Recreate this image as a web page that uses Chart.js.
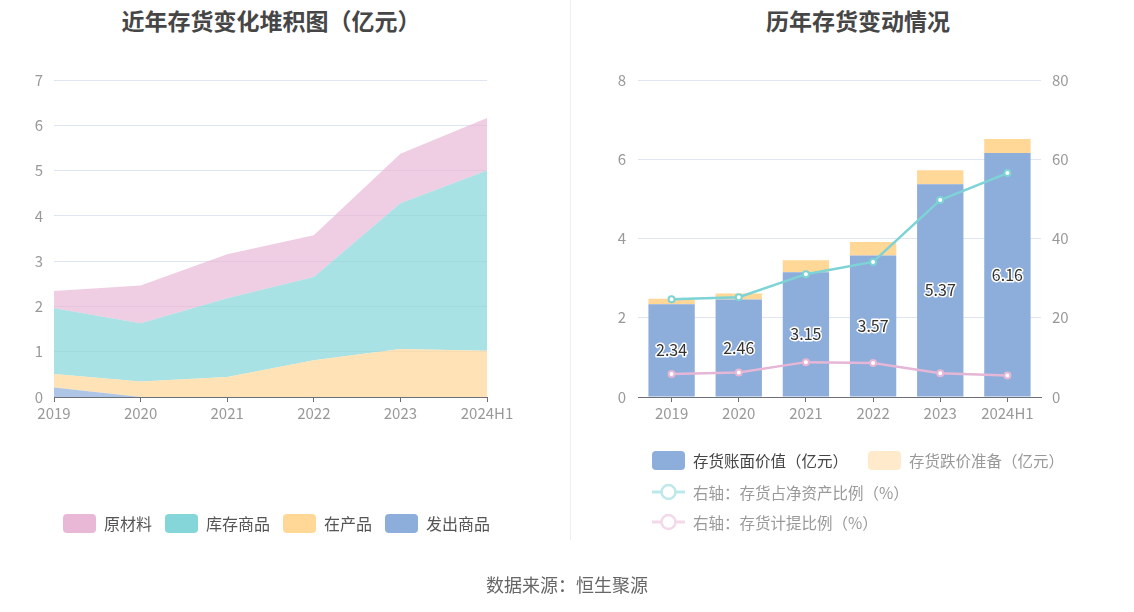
<!DOCTYPE html>
<html><head><meta charset="utf-8">
<script src="https://cdn.jsdelivr.net/npm/chart.js@4.4.0/dist/chart.umd.min.js"></script>
<style>
body{margin:0;width:1134px;height:612px;position:relative;background:#fff;font-family:"Noto Sans CJK SC",sans-serif;overflow:hidden}
.box{position:absolute;top:0;height:612px}
.title{position:absolute;top:3px;font-size:23px;font-weight:bold;color:#464646;white-space:nowrap;transform:translateX(-50%)}
.divider{position:absolute;left:570px;top:0;width:1px;height:540px;background:#eeeeee}
.leg{position:absolute;display:flex;align-items:center;white-space:nowrap}
.sw{width:33px;height:19px;border-radius:4px;margin-right:8px}
.src{position:absolute;top:571px;left:567px;transform:translateX(-50%);font-size:18px;color:#666;white-space:nowrap}
</style></head>
<body>
<div class="title" style="left:271px">近年存货变化堆积图（亿元）</div>
<div class="title" style="left:858px">历年存货变动情况</div>
<div class="divider"></div>
<div class="box" style="left:0;width:570px"><canvas id="c1"></canvas></div>
<div class="box" style="left:570px;width:564px"><canvas id="c2"></canvas></div>

<div class="leg" style="left:63px;top:511px;font-size:16px;color:#555">
  <div class="sw" style="background:#E8B8D6"></div><span style="margin-right:13px">原材料</span>
  <div class="sw" style="background:#85D6D9"></div><span style="margin-right:13px">库存商品</span>
  <div class="sw" style="background:#FFD797"></div><span style="margin-right:13px">在产品</span>
  <div class="sw" style="background:#8DADDA"></div><span>发出商品</span>
</div>

<div class="leg" style="left:652px;top:449px;font-size:15.5px">
  <div class="sw" style="background:#8DADDA"></div><span style="color:#444;margin-right:20px">存货账面价值（亿元）</span>
  <div class="sw" style="background:#FFEBCC"></div><span style="color:#999">存货跌价准备（亿元）</span>
</div>
<div class="leg" style="left:652px;top:481px;font-size:15.5px">
  <svg width="33" height="20" style="margin-right:8px"><line x1="0" y1="10" x2="33" y2="10" stroke="#BDE9EA" stroke-width="3"/><circle cx="16.5" cy="10" r="7" fill="#fff" stroke="#BDE9EA" stroke-width="2.5"/></svg>
  <span style="color:#999">右轴：存货占净资产比例（%）</span>
</div>
<div class="leg" style="left:652px;top:511px;font-size:15.5px">
  <svg width="33" height="20" style="margin-right:8px"><line x1="0" y1="10" x2="33" y2="10" stroke="#F3D9EA" stroke-width="3"/><circle cx="16.5" cy="10" r="7" fill="#fff" stroke="#F3D9EA" stroke-width="2.5"/></svg>
  <span style="color:#999">右轴：存货计提比例（%）</span>
</div>
<div class="src">数据来源：恒生聚源</div>

<script>
const years = ['2019','2020','2021','2022','2023','2024H1'];
const rawMaterial = [0.38,0.83,0.97,0.92,1.09,1.16];
const finishedGoods = [1.45,1.29,1.74,1.84,3.22,3.98];
const workInProgress = [0.30,0.34,0.44,0.81,1.06,1.02];
const goodsShipped = [0.21,0,0,0,0,0];
const bookValue = [2.34,2.46,3.15,3.57,5.37,6.16];
const provision = [0.14,0.15,0.30,0.34,0.35,0.35];
const ratioNetAssets = [24.7,25.2,31.0,34.1,49.7,56.5];
const provisionRatio = [5.8,6.2,8.8,8.6,6.0,5.4];

const FONT = '"Noto Sans CJK SC", sans-serif';
const tickColor = '#999999';
const axisColor = '#6E7079';
const gridColor = '#E0E6F1';

function area(label, data, color, fill){
  return {label, data, backgroundColor: color, borderWidth: 0, pointRadius: 0, fill, tension: 0};
}

new Chart(document.getElementById('c1'), {
  type: 'line',
  data: {
    labels: years,
    datasets: [
      area('发出商品', goodsShipped, 'rgba(141,173,218,0.7)', 'origin'),
      area('在产品', workInProgress, 'rgba(255,215,151,0.7)', '-1'),
      area('库存商品', finishedGoods, 'rgba(133,214,217,0.7)', '-1'),
      area('原材料', rawMaterial, 'rgba(232,184,214,0.7)', '-1')
    ]
  },
  options: {
    responsive: true, maintainAspectRatio: false, animation: false,
    layout: {padding: {left: 34, right: 83, top: 80, bottom: 185}},
    plugins: {legend: {display: false}, tooltip: {enabled: false}},
    scales: {
      x: {
        offset: false,
        grid: {display: true, drawOnChartArea: false, drawTicks: true, tickLength: 5, color: axisColor},
        border: {display: true, color: axisColor, width: 1},
        ticks: {color: tickColor, font: {family: FONT, size: 15}, padding: 2, maxRotation: 0, autoSkip: false},
        afterFit: s => { s.height = 30; }
      },
      y: {
        stacked: true, min: 0, max: 7,
        grid: {color: gridColor, drawTicks: false},
        border: {display: false},
        ticks: {stepSize: 1, color: tickColor, font: {family: FONT, size: 15}, padding: 11},
        afterFit: s => { s.width = 20; }
      }
    }
  }
});

const barLabels = {
  id: 'barLabels',
  afterDatasetsDraw(chart){
    const meta = chart.getDatasetMeta(0);
    const ctx = chart.ctx;
    ctx.save();
    ctx.font = '16px ' + FONT;
    ctx.textAlign = 'center'; ctx.textBaseline = 'middle';
    ctx.lineWidth = 3; ctx.lineJoin = 'round';
    ctx.strokeStyle = '#fff'; ctx.fillStyle = '#333';
    meta.data.forEach((el, i) => {
      const y = (el.y + el.base) / 2;
      const t = bookValue[i].toFixed(2);
      ctx.strokeText(t, el.x, y);
      ctx.fillText(t, el.x, y);
    });
    ctx.restore();
  }
};

new Chart(document.getElementById('c2'), {
  type: 'bar',
  data: {
    labels: years,
    datasets: [
      {type: 'bar', label: '存货账面价值（亿元）', data: bookValue, backgroundColor: '#8DADDA', stack: 's', yAxisID: 'y', order: 2, barPercentage: 0.69, categoryPercentage: 1},
      {type: 'bar', label: '存货跌价准备（亿元）', data: provision, backgroundColor: '#FFD797', stack: 's', yAxisID: 'y', order: 2, barPercentage: 0.69, categoryPercentage: 1},
      {type: 'line', label: '右轴：存货占净资产比例（%）', data: ratioNetAssets, yAxisID: 'y1', order: 0, borderColor: '#7DD3D5', borderWidth: 2.5, pointRadius: 3, pointBorderWidth: 2, pointBackgroundColor: '#fff', pointBorderColor: '#7DD3D5', tension: 0},
      {type: 'line', label: '右轴：存货计提比例（%）', data: provisionRatio, yAxisID: 'y1', order: 0, borderColor: '#E6B6D6', borderWidth: 2.5, pointRadius: 3, pointBorderWidth: 2, pointBackgroundColor: '#fff', pointBorderColor: '#E6B6D6', tension: 0}
    ]
  },
  options: {
    responsive: true, maintainAspectRatio: false, animation: false,
    layout: {padding: {left: 44, right: 53, top: 80, bottom: 185}},
    plugins: {legend: {display: false}, tooltip: {enabled: false}},
    scales: {
      x: {
        stacked: true,
        grid: {display: true, offset: false, drawOnChartArea: false, drawTicks: true, tickLength: 5, color: axisColor},
        border: {display: true, color: axisColor, width: 1},
        ticks: {color: tickColor, font: {family: FONT, size: 15}, padding: 2, maxRotation: 0, autoSkip: false},
        afterFit: s => { s.height = 30; }
      },
      y: {
        stacked: true, position: 'left', min: 0, max: 8,
        grid: {color: gridColor, drawTicks: false},
        border: {display: false},
        ticks: {stepSize: 2, color: tickColor, font: {family: FONT, size: 15}, padding: 12},
        afterFit: s => { s.width = 24; }
      },
      y1: {
        position: 'right', min: 0, max: 80,
        grid: {display: false, drawTicks: false},
        border: {display: false},
        ticks: {stepSize: 20, color: tickColor, font: {family: FONT, size: 15}, padding: 11},
        afterFit: s => { s.width = 40; }
      }
    }
  },
  plugins: [barLabels]
});
</script>
</body></html>
